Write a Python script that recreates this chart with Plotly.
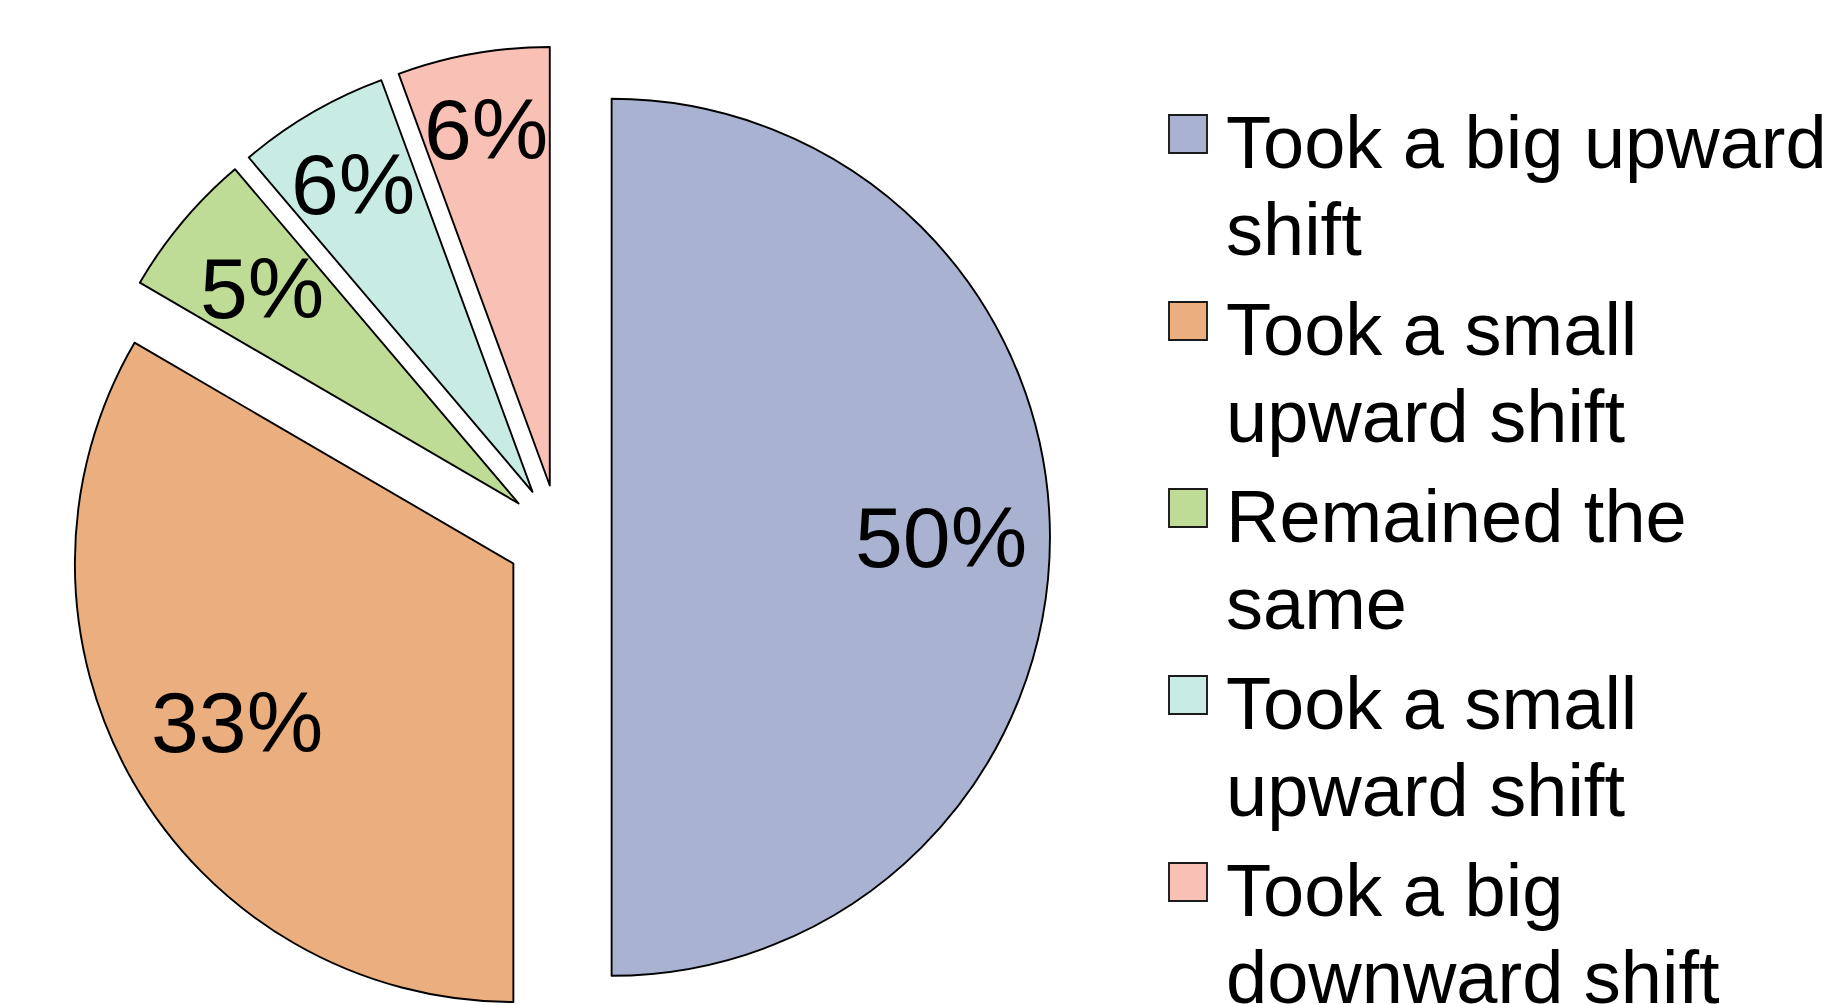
import math
import plotly.graph_objects as go

# ---------------- data ----------------
categories = [
    "Took a big upward shift",
    "Took a small upward shift",
    "Remained the same",
    "Took a small upward shift",
    "Took a big downward shift",
]
legend_labels = [
    "Took a big upward<br>shift",
    "Took a small<br>upward shift",
    "Remained the<br>same",
    "Took a small<br>upward shift",
    "Took a big<br>downward shift",
]
values = [50, 33.4, 5.4, 5.6, 5.6]
colors = ["#A9B3D1", "#EAAE7F", "#BFDC96", "#C8EBE4", "#F9C0B5"]

# ---------------- layout constants (pixels) ----------------
W, H = 1841, 1030
CX, CY = 559.0, 537.3          # pie centre
R = 438.5                      # pie radius
PULL = 0.12                    # explode fraction
LABEL_RFRAC = [0.751, 0.726, 0.764, 0.812, 0.826]
LABEL_FONT = 86
LEG_BOX_X = 1169
LEG_BOX = 38
LEG_TOP0 = 115
LEG_STEP = 187
LEG_TEXT_X = 1225
LEG_FONT = 74
LEG_LINE = 87.3
FONT = "Liberation Sans, Arial, Helvetica, sans-serif"


def px(x):
    return x / W


def py(y):
    return 1 - y / H


# unique labels so the pie does not merge the duplicated category
pie_labels = []
for i, c in enumerate(categories):
    pie_labels.append(c + "\u200b" * categories[:i].count(c))

half = R * (1 + PULL)
fig = go.Figure(
    go.Pie(
        labels=pie_labels,
        values=values,
        sort=False,
        direction="clockwise",
        rotation=0,
        pull=[PULL] * len(values),
        marker=dict(colors=colors, line=dict(color="#000000", width=1.9)),
        textinfo="none",
        hovertext=categories,
        hoverinfo="text+percent",
        showlegend=False,
        domain=dict(x=[px(CX - half), px(CX + half)],
                    y=[py(CY + half), py(CY - half)]),
    )
)

annotations = []
shapes = []
total = sum(values)
cum = 0
for i, v in enumerate(values):
    theta = 2 * math.pi * (cum + v / 2) / total
    cum += v
    d = (PULL + LABEL_RFRAC[i]) * R
    lx = CX + d * math.sin(theta)
    ly = CY - d * math.cos(theta)
    annotations.append(dict(
        x=px(lx), y=py(ly), xref="paper", yref="paper",
        text=f"{round(100 * v / total)}%", showarrow=False,
        xanchor="center", yanchor="middle", borderpad=0,
        font=dict(family=FONT, size=LABEL_FONT, color="#000000"),
    ))

# legend (squares + wrapped text)
for i, lab in enumerate(legend_labels):
    top = LEG_TOP0 + i * LEG_STEP
    shapes.append(dict(
        type="rect", xref="paper", yref="paper",
        x0=px(LEG_BOX_X), x1=px(LEG_BOX_X + LEG_BOX),
        y0=py(top), y1=py(top + LEG_BOX),
        fillcolor=colors[i], line=dict(color="#1a1a1a", width=1.9),
    ))
    for j, line in enumerate(lab.split("<br>")):
        baseline = top + 52.7 + j * LEG_LINE
        annotations.append(dict(
            x=px(LEG_TEXT_X), y=py(baseline - 0.3465 * LEG_FONT),
            xref="paper", yref="paper", text=line, showarrow=False,
            xanchor="left", yanchor="middle", borderpad=0,
            font=dict(family=FONT, size=LEG_FONT, color="#000000"),
        ))

fig.update_layout(
    width=W, height=H,
    margin=dict(l=0, r=0, t=0, b=0),
    paper_bgcolor="#FFFFFF",
    plot_bgcolor="#FFFFFF",
    annotations=annotations,
    shapes=shapes,
    showlegend=False,
)

fig.write_html(
    "out.html",
    config={"displayModeBar": False},
    post_script="document.body.style.margin='0';"
                "document.documentElement.style.overflow='hidden';"
                "document.body.style.overflow='hidden';",
)
